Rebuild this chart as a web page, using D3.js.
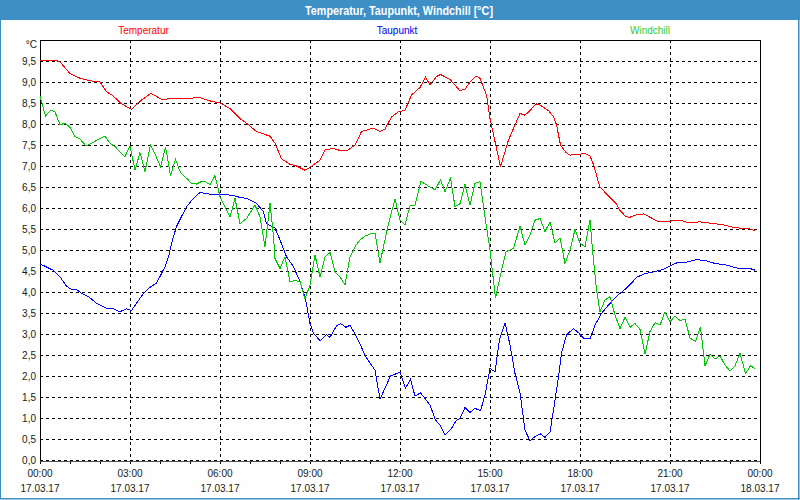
<!DOCTYPE html>
<html>
<head>
<meta charset="utf-8">
<script src="https://cdnjs.cloudflare.com/ajax/libs/d3/7.8.5/d3.min.js"></script>
<style>
  html, body { margin: 0; padding: 0; background: #fdfefd; }
  svg { display: block; }
  text { font-family: "Liberation Sans", Arial, sans-serif; }
</style>
</head>
<body>
<svg id="chart" width="800" height="500"></svg>
<script>
// ---- data (minutes since 17.03.17 00:00, °C) ----
const chartTitle = "Temperatur, Taupunkt, Windchill [°C]";
const seriesNames = ["Temperatur", "Taupunkt", "Windchill"];
const yTickValues = [0,0.5,1,1.5,2,2.5,3,3.5,4,4.5,5,5.5,6,6.5,7,7.5,8,8.5,9,9.5];
const xTickHours = [0,3,6,9,12,15,18,21,24];
const xTickTimes = ["00:00","03:00","06:00","09:00","12:00","15:00","18:00","21:00","00:00"];
const xTickDates = ["17.03.17","17.03.17","17.03.17","17.03.17","17.03.17","17.03.17","17.03.17","17.03.17","18.03.17"];

const temperatur = [
 [0,9.5],[30,9.52],[40,9.48],[60,9.2],[80,9.09],[100,9.03],[120,9.0],[133,8.77],[146,8.67],[163,8.48],
 [183,8.35],[203,8.57],[222,8.73],[246,8.57],[260,8.61],[293,8.61],[320,8.63],[340,8.55],[360,8.5],[380,8.37],
 [400,8.13],[413,8.02],[433,7.82],[460,7.71],[470,7.54],[483,7.17],[500,7.04],[513,7.0],[530,6.9],[540,6.97],
 [560,7.14],[570,7.38],[586,7.42],[603,7.36],[616,7.38],[630,7.5],[643,7.82],[666,7.9],[680,7.82],[690,7.88],
 [703,8.17],[717,8.29],[730,8.33],[743,8.69],[760,8.87],[771,9.11],[780,8.93],[793,9.13],[801,9.18],[820,9.06],
 [840,8.79],[850,8.83],[860,9.0],[872,9.14],[880,9.09],[893,8.69],[900,8.13],[921,6.98],[937,7.62],[960,8.25],
 [970,8.21],[980,8.32],[992,8.48],[1000,8.45],[1017,8.32],[1027,8.17],[1033,7.98],[1041,7.5],[1052,7.32],[1060,7.26],
 [1080,7.28],[1090,7.3],[1100,7.24],[1108,7.0],[1119,6.52],[1133,6.33],[1153,6.1],[1160,5.94],[1172,5.79],[1180,5.78],
 [1190,5.83],[1208,5.86],[1220,5.78],[1237,5.67],[1253,5.67],[1270,5.71],[1283,5.7],[1297,5.65],[1320,5.67],[1346,5.63],
 [1366,5.6],[1386,5.54],[1400,5.52],[1420,5.5],[1430,5.46]
];

const taupunkt = [
 [0,4.67],[26,4.52],[40,4.36],[53,4.14],[63,4.06],[73,4.06],[83,3.97],[97,3.89],[113,3.73],[133,3.61],
 [147,3.6],[160,3.53],[173,3.6],[183,3.56],[193,3.73],[207,3.97],[220,4.11],[233,4.21],[250,4.6],[257,4.84],
 [265,5.24],[273,5.56],[293,6.03],[307,6.23],[320,6.37],[340,6.33],[360,6.33],[387,6.3],[400,6.25],[413,6.23],
 [433,6.11],[447,5.91],[453,5.63],[470,5.52],[480,5.24],[493,4.84],[507,4.6],[520,4.25],[530,3.89],[540,3.25],
 [547,3.02],[560,2.84],[573,2.98],[580,2.92],[593,3.19],[601,3.25],[612,3.16],[620,3.21],[633,2.94],[652,2.45],
 [670,2.14],[680,1.45],[690,1.71],[701,2.0],[720,2.09],[731,1.71],[741,1.92],[750,1.52],[761,1.6],[780,1.31],
 [791,0.95],[800,0.83],[810,0.6],[823,0.75],[833,0.95],[840,0.99],[850,1.25],[860,1.13],[870,1.23],[881,1.17],
 [890,1.55],[900,2.18],[910,2.1],[919,2.86],[930,3.27],[940,2.74],[950,2.06],[960,1.6],[970,0.71],[980,0.46],
 [990,0.56],[1001,0.62],[1010,0.54],[1020,0.67],[1027,1.19],[1037,1.98],[1043,2.54],[1053,2.98],[1067,3.13],[1077,3.03],
 [1087,2.9],[1100,2.88],[1110,3.21],[1123,3.49],[1137,3.69],[1153,3.9],[1170,4.06],[1183,4.21],[1193,4.35],[1210,4.44],
 [1227,4.48],[1247,4.54],[1263,4.64],[1277,4.71],[1293,4.71],[1313,4.77],[1330,4.75],[1350,4.68],[1373,4.64],[1397,4.56],
 [1420,4.56],[1430,4.52]
];

const windchill = [
 [0,8.67],[11,8.19],[21,8.33],[30,8.29],[40,7.98],[50,8.02],[60,7.92],[70,7.7],[80,7.64],[92,7.48],
 [103,7.54],[120,7.66],[130,7.71],[140,7.54],[150,7.46],[170,7.22],[180,7.48],[190,6.9],[200,7.32],[210,6.87],
 [221,7.5],[231,7.26],[241,6.98],[251,7.46],[261,6.77],[271,7.16],[281,6.84],[293,6.71],[303,6.59],[313,6.57],
 [323,6.63],[330,6.63],[340,6.55],[350,6.77],[360,6.27],[370,6.03],[380,5.78],[390,6.23],[400,5.63],[413,5.75],
 [430,6.07],[440,5.79],[450,5.08],[460,6.11],[467,5.32],[470,4.8],[480,4.56],[490,4.84],[500,4.25],[510,4.27],
 [520,4.25],[530,3.83],[540,4.17],[550,4.88],[560,4.36],[570,4.84],[580,4.94],[590,4.48],[600,4.36],[610,4.17],
 [620,4.84],[630,5.08],[640,5.24],[650,5.33],[660,5.38],[670,5.4],[680,4.7],[690,5.24],[697,5.63],[710,6.21],
 [720,5.71],[730,5.6],[740,6.05],[750,6.07],[762,6.63],[773,6.55],[790,6.43],[801,6.67],[810,6.39],[821,6.71],
 [830,6.03],[840,6.1],[850,6.56],[860,6.07],[870,6.59],[880,6.63],[890,5.79],[900,5.0],[911,3.85],[920,4.36],
 [932,4.96],[947,5.04],[960,5.56],[970,5.12],[980,5.36],[990,5.71],[1000,5.75],[1010,5.44],[1020,5.67],[1030,5.17],
 [1040,5.28],[1050,4.68],[1060,5.0],[1070,5.49],[1080,5.16],[1090,5.08],[1100,5.71],[1105,5.0],[1113,4.05],[1120,3.53],
 [1130,3.81],[1140,3.89],[1150,3.45],[1160,3.13],[1170,3.4],[1180,3.16],[1190,3.25],[1200,3.11],[1210,2.52],[1220,3.06],
 [1230,3.27],[1240,3.21],[1250,3.53],[1260,3.29],[1270,3.43],[1280,3.32],[1290,3.36],[1300,2.9],[1311,2.83],[1321,3.16],
 [1330,2.24],[1340,2.52],[1350,2.4],[1360,2.48],[1370,2.26],[1380,2.12],[1390,2.24],[1400,2.54],[1411,2.06],[1421,2.24],
 [1430,2.18]
];

const lineColors = ["#ff0000", "#0000ff", "#00c800"];
const legendColors = ["#ff0000", "#0000ff", "#33cc33"];

// ---- drawing ----
const svg = d3.select("#chart");
const W = 800, H = 500;
const m = {left: 40, right: 40, top: 40, bottom: 40};
const base = new Date(2017, 2, 17, 0, 0);
const toDate = min => new Date(base.getTime() + min * 60000);

const x = d3.scaleTime().domain([base, toDate(24*60)]).range([m.left, W - m.right]);
const y = d3.scaleLinear().domain([0, 10]).range([H - m.bottom, m.top]);

// background
svg.append("rect").attr("width", W).attr("height", H).attr("fill", "#fdfefd");

// title bar
svg.append("rect").attr("x", 0).attr("y", 0).attr("width", W).attr("height", 20).attr("fill", "#3d8fc5");
svg.append("text").attr("x", 399).attr("y", 14.5).attr("text-anchor", "middle")
  .attr("fill", "#ffffff").attr("font-size", 12).attr("font-weight", "bold")
  .attr("textLength", 188).attr("lengthAdjust", "spacingAndGlyphs")
  .text(chartTitle);

// outer frame
svg.append("rect").attr("x", 0.5).attr("y", 0.5).attr("width", W - 1.5).attr("height", H - 1.5)
  .attr("fill", "none").attr("stroke", "#3d8fc5").attr("stroke-width", 1);
svg.append("line").attr("x1", W - 1.5).attr("x2", W - 1.5).attr("y1", 0).attr("y2", H)
  .attr("stroke", "#3d8fc5");
svg.append("line").attr("x1", 0).attr("x2", W).attr("y1", H - 1.5).attr("y2", H - 1.5)
  .attr("stroke", "#3d8fc5");

// legend
const legendX = [143.5, 397, 650];
seriesNames.forEach((n, i) => {
  svg.append("text").attr("x", legendX[i]).attr("y", 34).attr("text-anchor", "middle")
    .attr("font-size", 10).attr("fill", legendColors[i]).text(n);
});

// horizontal grid
const gridY = svg.append("g").attr("transform", `translate(${m.left},0)`)
  .call(d3.axisLeft(y).tickValues(yTickValues).tickSize(-(W - m.left - m.right)).tickFormat(""));
gridY.select(".domain").remove();
gridY.selectAll("line").attr("stroke", "#000").attr("stroke-dasharray", "3,3").attr("shape-rendering", "crispEdges");

// vertical grid
const gridX = svg.append("g").attr("transform", `translate(0,${m.top})`)
  .call(d3.axisBottom(x).tickValues(xTickHours.slice(1, -1).map(h => toDate(h*60)))
    .tickSize(H - m.top - m.bottom).tickFormat(""));
gridX.select(".domain").remove();
gridX.selectAll("line").attr("stroke", "#000").attr("stroke-dasharray", "3,3").attr("shape-rendering", "crispEdges");

// y labels
const yAxis = svg.append("g").attr("transform", `translate(${m.left},0)`)
  .call(d3.axisLeft(y).tickValues(yTickValues).tickSize(0).tickPadding(4)
    .tickFormat(d => d3.format(".1f")(d).replace(".", ",")));
yAxis.select(".domain").remove();
yAxis.selectAll("text").attr("font-size", 10).attr("fill", "#1a1a1a")
  .attr("font-family", "'Liberation Sans', Arial, sans-serif");
svg.append("text").attr("x", 37).attr("y", 48).attr("text-anchor", "end")
  .attr("font-size", 10).attr("fill", "#1a1a1a").text("°C");

// x axis minor ticks (hourly)
const xAxis = svg.append("g").attr("transform", `translate(0,${H - m.bottom})`)
  .call(d3.axisBottom(x).ticks(d3.timeHour.every(1)).tickSize(4).tickFormat(""));
xAxis.select(".domain").remove();
xAxis.selectAll("line").attr("stroke", "#000").attr("shape-rendering", "crispEdges");

// x labels
const xl = svg.append("g");
xTickHours.forEach((h, i) => {
  const t = xl.append("text").attr("x", x(toDate(h*60))).attr("text-anchor", "middle")
    .attr("font-size", 10).attr("fill", "#1a1a1a");
  t.append("tspan").attr("x", x(toDate(h*60))).attr("y", 477).text(xTickTimes[i]);
  t.append("tspan").attr("x", x(toDate(h*60))).attr("y", 492).text(xTickDates[i]);
});

// plot border
const pb = svg.append("g").attr("shape-rendering", "crispEdges").attr("stroke", "#000").attr("fill", "none");
pb.append("line").attr("x1", m.left).attr("x2", W - m.right).attr("y1", m.top).attr("y2", m.top);
pb.append("line").attr("x1", m.left).attr("x2", m.left).attr("y1", m.top).attr("y2", H - m.bottom + 4);
pb.append("line").attr("x1", W - m.right).attr("x2", W - m.right).attr("y1", m.top).attr("y2", H - m.bottom + 4);
pb.append("line").attr("x1", m.left).attr("x2", W - m.right).attr("y1", H - m.bottom + 1).attr("y2", H - m.bottom + 1)
  .attr("stroke", "#555");

// series lines
const line = d3.line().x(d => x(toDate(d[0]))).y(d => y(d[1]));
[temperatur, taupunkt, windchill].forEach((s, i) => {
  svg.append("path").datum(s).attr("d", line).attr("fill", "none")
    .attr("stroke", lineColors[i]).attr("stroke-width", 1)
    .attr("shape-rendering", "crispEdges");
});
</script>
</body>
</html>
